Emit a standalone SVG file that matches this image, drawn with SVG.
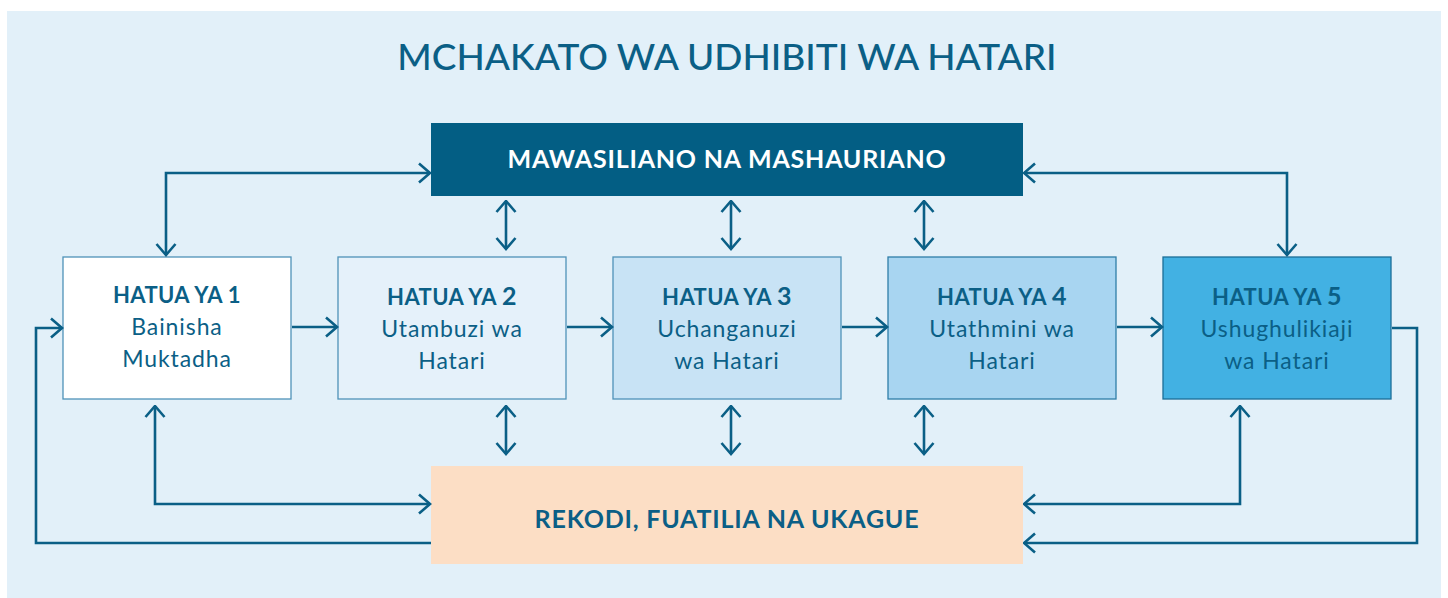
<svg xmlns="http://www.w3.org/2000/svg" width="1448" height="598" viewBox="0 0 1448 598">
  <style>
    .t { font-family: Lato, "Open Sans", "Liberation Sans", sans-serif; fill: #0b5f86; text-anchor: middle; }
    .title { font-size: 37px; font-weight: 500; }
    .band { font-size: 25px; font-weight: 700; letter-spacing: 0.8px; }
    .h { font-size: 22px; font-weight: 700; letter-spacing: 0.4px; }
    .b { font-size: 23px; font-weight: 400; letter-spacing: 0.9px; }
    .big { font-size: 25px; }
    .box { stroke: #4f92b8; stroke-width: 1.3; }
    .c { fill: none; stroke: #0a5f86; stroke-width: 2.6; }
  </style>
  <defs>
    <marker id="ah" viewBox="0 0 14 22" refX="12.5" refY="11" markerWidth="14" markerHeight="22" markerUnits="userSpaceOnUse" orient="auto-start-reverse">
      <path d="M1.5,1.5 L12.5,11 L1.5,20.5" fill="none" stroke="#0a5f86" stroke-width="2.6"/>
    </marker>
  </defs>

  <rect x="0" y="0" width="1448" height="598" fill="#ffffff"/>
  <rect x="7" y="11" width="1434" height="587" fill="#e2f0f9"/>

  <text class="t title" x="727" y="70">MCHAKATO WA UDHIBITI WA HATARI</text>

  <g id="mawasiliano">
    <rect x="431" y="123" width="592" height="73" fill="#035e84"/>
    <text class="t band" x="727" y="168" style="fill:#ffffff">MAWASILIANO NA MASHAURIANO</text>
  </g>

  <g id="hatua1">
    <rect class="box" x="63" y="257" width="228" height="142" fill="#ffffff"/>
    <text class="t h" x="177" y="303">HATUA YA 1</text>
    <text class="t b" x="177" y="335">Bainisha</text>
    <text class="t b" x="177" y="367">Muktadha</text>
  </g>

  <g id="hatua2">
    <rect class="box" x="338" y="257" width="228" height="142" fill="#e5f1fa"/>
    <text class="t h" x="452" y="305">HATUA YA <tspan class="big">2</tspan></text>
    <text class="t b" x="452" y="337">Utambuzi wa</text>
    <text class="t b" x="452" y="369">Hatari</text>
  </g>

  <g id="hatua3">
    <rect class="box" x="613" y="257" width="228" height="142" fill="#c8e3f5"/>
    <text class="t h" x="727" y="305">HATUA YA <tspan class="big">3</tspan></text>
    <text class="t b" x="727" y="337">Uchanganuzi</text>
    <text class="t b" x="727" y="369">wa Hatari</text>
  </g>

  <g id="hatua4">
    <rect class="box" x="888" y="257" width="228" height="142" fill="#a8d5f1" style="stroke:#2f7ea8"/>
    <text class="t h" x="1002" y="305">HATUA YA <tspan class="big">4</tspan></text>
    <text class="t b" x="1002" y="337">Utathmini wa</text>
    <text class="t b" x="1002" y="369">Hatari</text>
  </g>

  <g id="hatua5">
    <rect class="box" x="1163" y="257" width="228" height="142" fill="#42b1e3" style="stroke:#1b6e98"/>
    <text class="t h" x="1277" y="305">HATUA YA <tspan class="big">5</tspan></text>
    <text class="t b" x="1277" y="337">Ushughulikiaji</text>
    <text class="t b" x="1277" y="369">wa Hatari</text>
  </g>

  <g id="rekodi">
    <rect x="431" y="466" width="592" height="98" fill="#fcdec5"/>
    <text class="t band" x="727" y="528">REKODI, FUATILIA NA UKAGUE</text>
  </g>

  <g id="connectors">
    <line class="c" x1="292" y1="327" x2="337" y2="327" marker-end="url(#ah)"/>
    <line class="c" x1="567" y1="327" x2="612" y2="327" marker-end="url(#ah)"/>
    <line class="c" x1="842" y1="327" x2="887" y2="327" marker-end="url(#ah)"/>
    <line class="c" x1="1117" y1="327" x2="1162" y2="327" marker-end="url(#ah)"/>

    <polyline class="c" points="166,255 166,173 430,173" marker-start="url(#ah)" marker-end="url(#ah)"/>
    <polyline class="c" points="1024,173 1287,173 1287,255" marker-start="url(#ah)" marker-end="url(#ah)"/>

    <line class="c" x1="506" y1="201" x2="506" y2="249" marker-start="url(#ah)" marker-end="url(#ah)"/>
    <line class="c" x1="731" y1="201" x2="731" y2="249" marker-start="url(#ah)" marker-end="url(#ah)"/>
    <line class="c" x1="924" y1="201" x2="924" y2="249" marker-start="url(#ah)" marker-end="url(#ah)"/>

    <line class="c" x1="506" y1="406" x2="506" y2="454" marker-start="url(#ah)" marker-end="url(#ah)"/>
    <line class="c" x1="731" y1="406" x2="731" y2="454" marker-start="url(#ah)" marker-end="url(#ah)"/>
    <line class="c" x1="924" y1="406" x2="924" y2="454" marker-start="url(#ah)" marker-end="url(#ah)"/>

    <polyline class="c" points="155,406 155,504 430,504" marker-start="url(#ah)" marker-end="url(#ah)"/>
    <polyline class="c" points="1024,504 1240,504 1240,406" marker-start="url(#ah)" marker-end="url(#ah)"/>

    <polyline class="c" points="431,543 36,543 36,328 62,328" marker-end="url(#ah)"/>
    <polyline class="c" points="1392,328 1417,328 1417,543 1024,543" marker-end="url(#ah)"/>
  </g>
</svg>
